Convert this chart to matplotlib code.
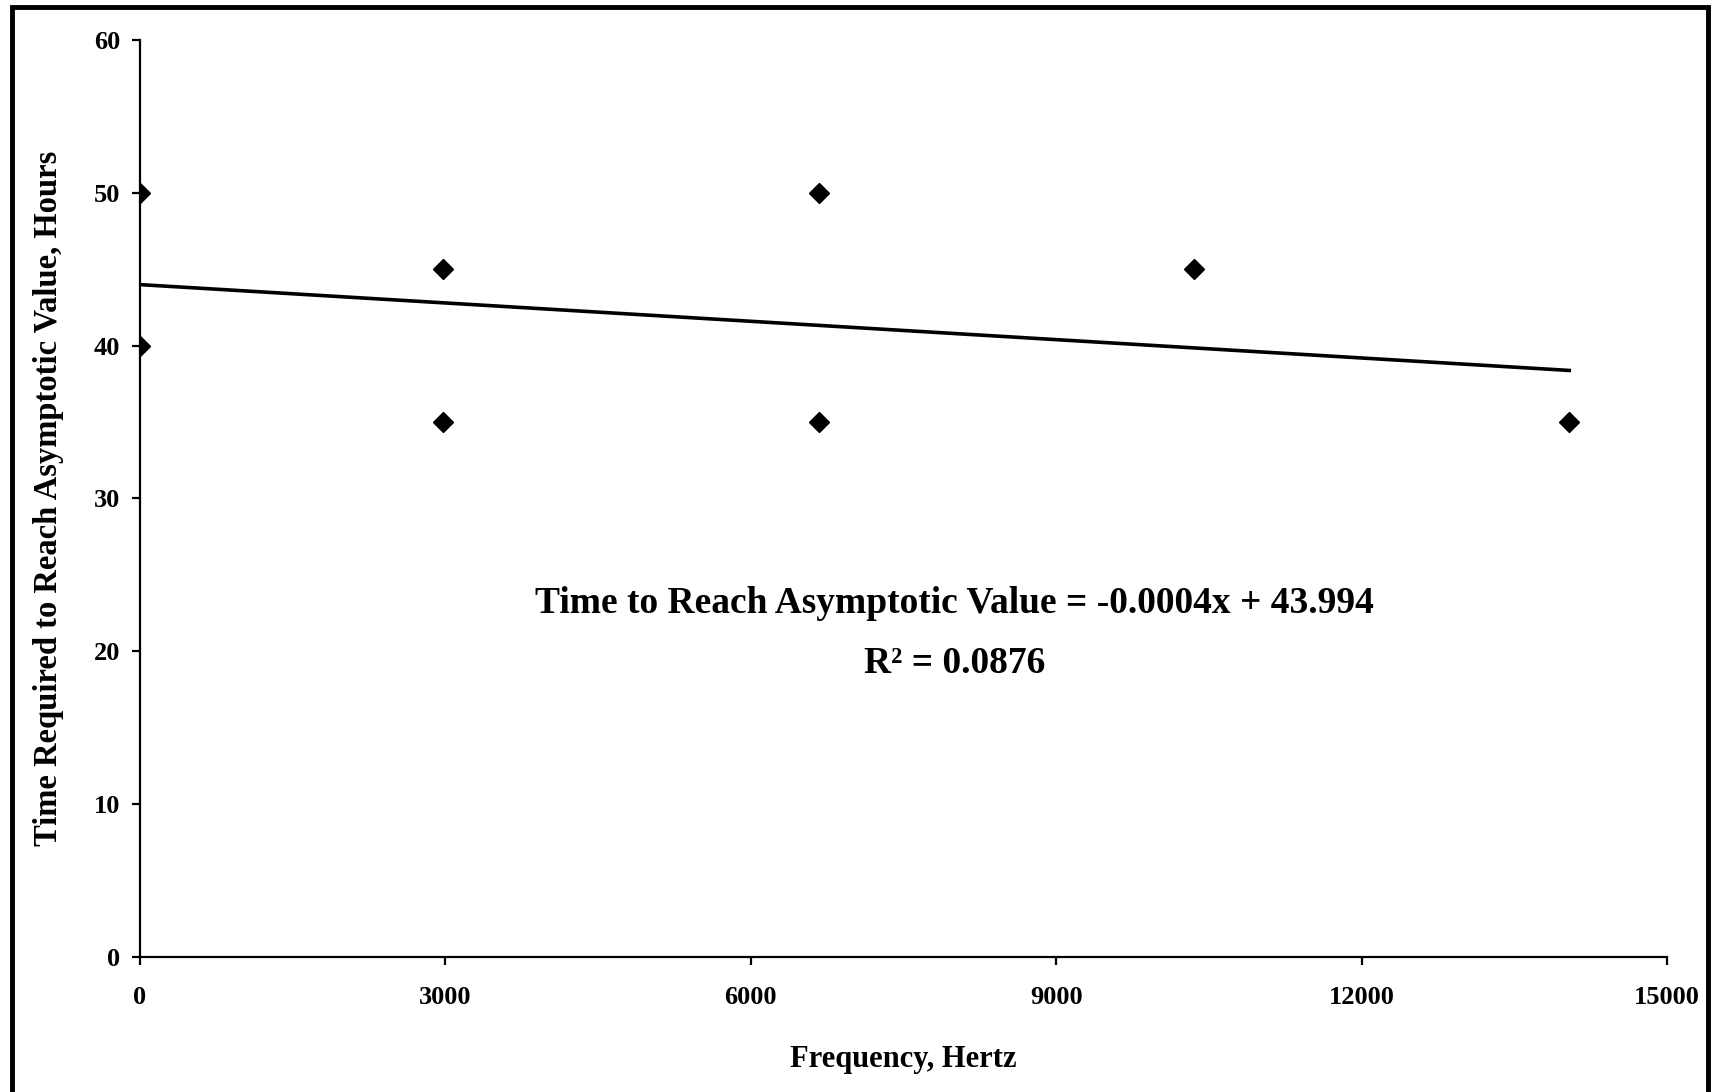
import numpy as np
import matplotlib.pyplot as plt
from matplotlib.patches import Rectangle

# data
freq = [0, 0, 2980, 2980, 6667, 6667, 10350, 14040]
hours = [50, 40, 45, 35, 50, 35, 45, 35]

# trendline as printed on the chart
slope = -0.0004
intercept = 43.994
r2 = 0.0876

x_ticks = [0, 3000, 6000, 9000, 12000, 15000]
y_ticks = [0, 10, 20, 30, 40, 50, 60]

plt.rcParams['font.family'] = ['Liberation Serif', 'DejaVu Serif']
plt.rcParams['font.weight'] = 'bold'

fig = plt.figure(figsize=(17.15, 10.92), dpi=100)
ax = fig.add_axes([0.0816, 0.1236, 0.8904, 0.8398])

ax.plot(freq, hours, 'D', color='black', markersize=10, zorder=3)

xs = np.array([0, max(freq)])
ax.plot(xs, slope*xs + intercept, color='black', lw=2.6)

ax.set_xlim(0, 15000)
ax.set_ylim(0, 60)
ax.set_xticks(x_ticks)
ax.set_yticks(y_ticks)

for s in ['top', 'right']:
    ax.spines[s].set_visible(False)
for s in ['left', 'bottom']:
    ax.spines[s].set_linewidth(1.6)

ax.tick_params(axis='both', direction='out', length=6, width=1.6, labelsize=19)
ax.tick_params(axis='x', pad=15)
ax.tick_params(axis='y', pad=8)

ax.set_xlabel('Frequency, Hertz', fontsize=22, fontweight='bold', labelpad=26)
ax.set_ylabel('Time Required to Reach Asymptotic Value, Hours', fontsize=23.5,
              fontweight='bold', labelpad=22)

ax.text(8000, 23.1, 'Time to Reach Asymptotic Value = -0.0004x + 43.994',
        ha='center', va='center', fontsize=27, fontweight='bold')
ax.text(8000, 19.2, 'R\u00b2 = %.4f' % r2,
        ha='center', va='center', fontsize=27, fontweight='bold')

# outer frame around the chart
fig.patches.append(Rectangle((0.007, -0.01), 0.989, 1.004, transform=fig.transFigure,
                             fill=False, edgecolor='black', lw=3.5))

fig.savefig('out.png', dpi=100)
